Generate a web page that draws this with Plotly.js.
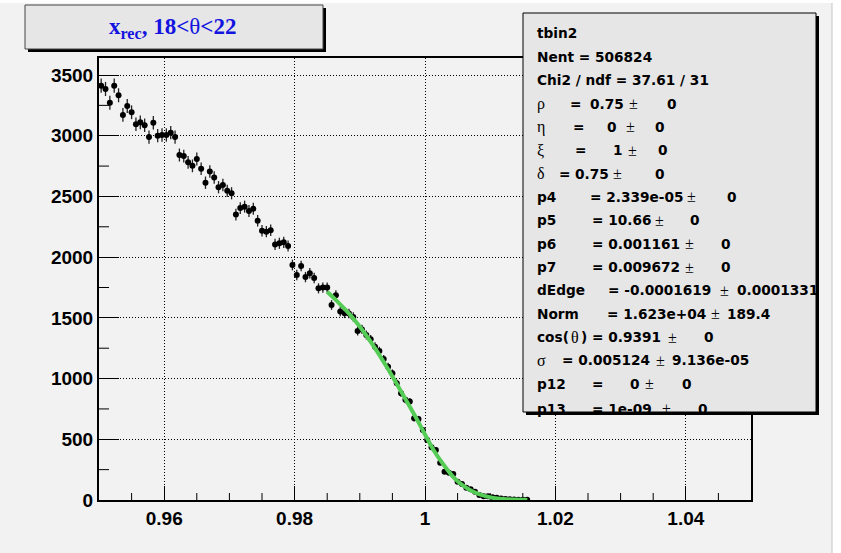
<!DOCTYPE html>
<html><head><meta charset="utf-8">
<script src="https://cdn.plot.ly/plotly-3.0.1.min.js"></script>
<style>html,body{margin:0;padding:0;background:#fff;}</style>
</head><body><div id="chart" style="width:841px;height:553px;"></div>
<script>
// ---- data ----
const binLow = 0.95, binHigh = 1.05, nBins = 150;
const counts = [
 3412,3385,3272,3412,3333,3171,3245,3193,3094,3110,
 3086,2989,3107,3000,3006,3006,3025,2989,2841,2832,
 2781,2752,2808,2728,2613,2705,2656,2576,2594,2546,
 2526,2351,2404,2416,2380,2399,2300,2218,2210,2221,
 2105,2114,2122,2092,1935,1853,1927,1836,1868,1828,
 1743,1749,1749,1606,1686,1553,1537,1535,1508,1392,
 1405,1359,1323,1263,1227,1161,1098,1043,961,879,
 825,812,673,667,576,494,434,412,307,233,
 225,214,151,132,101,88,68,41,30,30,
 22,18,12,9,6,4,3,2,2];
const fitX = [0.985,0.9865,0.988,0.9895,0.991,0.9925,0.994,0.9955,0.997,0.9985,1.000,1.0015,1.003,1.0045,1.006,1.0075,1.009,1.0105,1.012,1.0135,1.015,1.0157];
const fitY = [1715,1638,1555,1462,1355,1237,1108,972,832,690,540,395,280,180,112,66,36,17,8,4,2,1];
const xTickVals = [0.96,0.98,1.00,1.02,1.04];
const xTickText = ["0.96","0.98","1","1.02","1.04"];
const yTickVals = [0,500,1000,1500,2000,2500,3000,3500];
const yTickText = ["0","500","1000","1500","2000","2500","3000","3500"];
const titleText = '<b>x<sub>rec</sub>, 18&lt;</b>θ<b>&lt;22</b>';
// stats box lines: segments [text, x pixel, style]  (b = bold sans, g = symbol/serif)
const statsLines = [
 [["tbin2",537,"b"]],
 [["Nent = 506824",537,"b"]],
 [["Chi2 / ndf = 37.61 / 31",537,"b"]],
 [["ρ",537,"g"],["=",570,"b"],["0.75",590,"b"],["±",629,"g"],["0",667,"b"]],
 [["η",537,"g"],["=",573,"b"],["0",607,"b"],["±",626,"g"],["0",655,"b"]],
 [["ξ",537,"g"],["=",575,"b"],["1",613,"b"],["±",628,"g"],["0",658,"b"]],
 [["δ",537,"g"],["=",559,"b"],["0.75",575,"b"],["±",613,"g"],["0",655,"b"]],
 [["p4",537,"b"],["= 2.339e-05",590,"b"],["±",687,"g"],["0",727,"b"]],
 [["p5",537,"b"],["= 10.66",592,"b"],["±",655,"g"],["0",690,"b"]],
 [["p6",537,"b"],["= 0.001161",592,"b"],["±",685,"g"],["0",721,"b"]],
 [["p7",537,"b"],["= 0.009672",592,"b"],["±",685,"g"],["0",721,"b"]],
 [["dEdge",537,"b"],["= -0.0001619",608,"b"],["±",720,"g"],["0.0001331",737,"b"]],
 [["Norm",537,"b"],["= 1.623e+04",607,"b"],["±",711,"g"],["189.4",727,"b"]],
 [["cos(",537,"b"],["θ",570.5,"g"],[") = 0.9391",581,"b"],["±",668,"g"],["0",704,"b"]],
 [["σ",537,"g"],["= 0.005124",562,"b"],["±",656,"g"],["9.136e-05",672,"b"]],
 [["p12",537,"b"],["=",592,"b"],["0",630,"b"],["±",645,"g"],["0",682,"b"]],
 [["p13",537,"b"],["= 1e-09",592,"b"],["±",662,"g"],["0",698,"b"]]
];

// ---- geometry ----
const W = 841, H = 553, L = 99, R = 90, T = 58, B = 53;
const pw = W - L - R, ph = H - T - B;
const px2x = p => (p - L) / pw;
const py2y = p => (H - B - p) / ph;

const binWidth = (binHigh - binLow) / nBins;
const binCenters = counts.map((_, i) => binLow + (i + 0.5) * binWidth);

const traces = [
 {type:'scatter', mode:'markers', x: binCenters, y: counts,
  marker:{color:'#000', size:6},
  error_y:{type:'sqrt', visible:true, color:'#222', thickness:1.3, width:0},
  showlegend:false, hoverinfo:'skip'},
 {type:'scatter', mode:'lines', x: fitX, y: fitY, line:{color:'#55cc55', width:4, shape:'spline'},
  showlegend:false, hoverinfo:'skip'}
];

const bg = '#f2f2f2', boxFill = '#e6e6e6';
function rectPx(x0,y0,x1,y1,fill,lineColor,lw){
  return {type:'rect', xref:'paper', yref:'paper', x0:px2x(x0), x1:px2x(x1), y0:py2y(y1), y1:py2y(y0),
    fillcolor:fill, line:{color:lineColor||fill, width:lw||0}, layer:'above'};
}
const shapes = [];
// minor tick marks (axis decoration, every 0.005 on x and 250 on y)
const xMinorStep = 0.005, yMinorStep = 250;
for (let k = 1; k < Math.round((binHigh - binLow) / xMinorStep); k++) {
  const v = binLow + k * xMinorStep;
  if (k % 4 === 2) continue; // major positions (0.96, 0.98, ...)
  shapes.push({type:'line', xref:'x', yref:'paper', x0:v, x1:v, y0:0, y1:7/ph, line:{color:'#000', width:1}, layer:'below'});
}
for (let v = yMinorStep; v < 3640; v += 2 * yMinorStep) {
  shapes.push({type:'line', xref:'paper', yref:'y', x0:0, x1:10/pw, y0:v, y1:v, line:{color:'#000', width:1}, layer:'below'});
}
shapes.push(
  rectPx(0,0,W,3,'#ffffff'),
  rectPx(832,0,W,H,'#ffffff'),
  {type:'line', xref:'paper', yref:'paper', x0:px2x(832), x1:px2x(832), y0:py2y(3), y1:py2y(H), line:{color:'#c4c4c4', width:1}, layer:'above'},
  rectPx(28,8,326,52,'#000'),
  rectPx(25,5,323,49,boxFill,'#444',1),
  rectPx(526,16,819,415,'#000'),
  rectPx(523,13,816,412,boxFill,'#000',1)
);

const annotations = [];
annotations.push({xref:'paper', yref:'paper', x:px2x(172), y:py2y(28), xanchor:'center', yanchor:'middle',
  text:titleText, showarrow:false, font:{family:'Liberation Serif', size:23, color:'#1414e0'}, borderpad:0, borderwidth:0});
const lineTop = 33.5, lineStep = 23.35;
statsLines.forEach((segs, li) => {
  const yc = lineTop + li * lineStep + (li === statsLines.length - 1 ? 1.5 : 0);
  segs.forEach(([txt, xp, st]) => {
    annotations.push({xref:'paper', yref:'paper', x:px2x(xp), y:py2y(yc), xanchor:'left', yanchor:'middle',
      text:txt, showarrow:false, borderpad:0, borderwidth:0,
      font: st === 'b' ? {family:'DejaVu Sans', weight:'bold', size:13.7, color:'#000'}
                       : {family:'Liberation Serif', size:16, color:'#000'}});
  });
});

const tickFont = {family:'Liberation Sans', size:19, color:'#000', weight:'bold'};
const layout = {
  width:W, height:H, margin:{l:L, r:R, t:T, b:B, pad:0},
  paper_bgcolor:bg, plot_bgcolor:bg, showlegend:false,
  xaxis:{range:[binLow, binHigh], tickmode:'array', tickvals:xTickVals, ticktext:xTickText,
    ticks:'inside', ticklen:14, tickwidth:1, tickcolor:'#000',
    showline:true, linewidth:2, linecolor:'#000', mirror:true,
    showgrid:true, gridcolor:'#000', gridwidth:1, griddash:'1px,2px', zeroline:false,
    tickfont:tickFont},
  yaxis:{range:[0, 3640], tickmode:'array', tickvals:yTickVals, ticktext:yTickText,
    ticks:'inside', ticklen:20, tickwidth:1, tickcolor:'#000',
    showline:true, linewidth:2, linecolor:'#000', mirror:true,
    showgrid:true, gridcolor:'#000', gridwidth:1, griddash:'1px,2px', zeroline:false,
    tickfont:tickFont},
  shapes: shapes,
  annotations: annotations
};
Plotly.newPlot('chart', traces, layout, {displayModeBar:false, staticPlot:true});
</script></body></html>
